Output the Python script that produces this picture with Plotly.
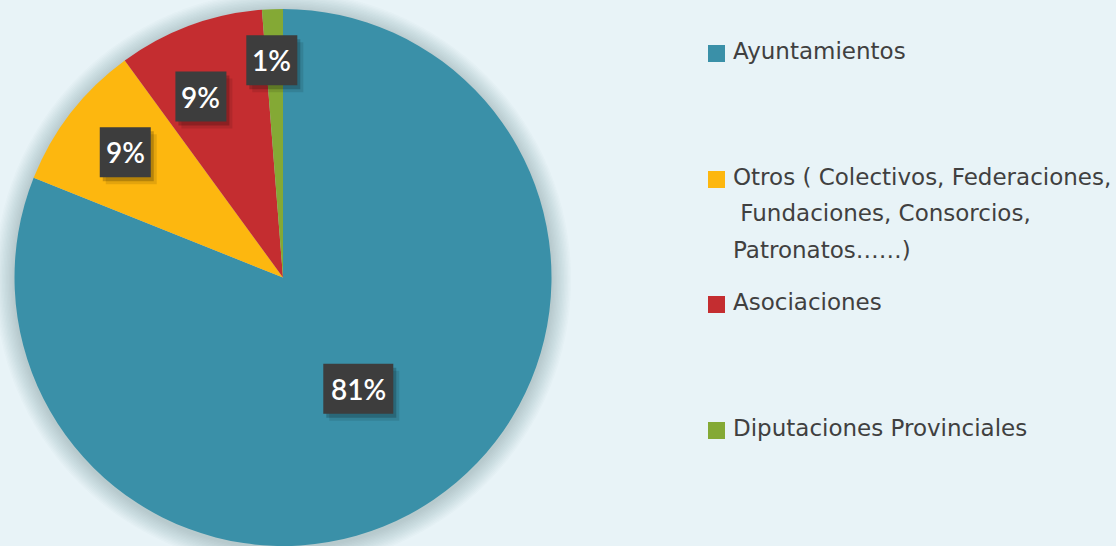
import math
import plotly.graph_objects as go

# ---- data ----
labels = [
    "Ayuntamientos",
    "Otros ( Colectivos, Federaciones,\n Fundaciones, Consorcios,\nPatronatos……)",
    "Asociaciones",
    "Diputaciones Provinciales",
]
values = [81.05, 8.92, 8.78, 1.25]
colors = ["#3a90a8", "#fdb70f", "#c42d30", "#84a935"]

# ---- layout geometry (pixels) ----
W, H = 1116, 546
pie_left, pie_right, pie_top = 13, 553, 9
dom_x = [pie_left / W, pie_right / W]
dom_y = [0.0, 1 - pie_top / H]
R = min(pie_right - pie_left, H - pie_top) / 2
CX = (pie_left + pie_right) / 2
CY = pie_top + R

label_rfrac = [0.50, 0.75, 0.74, 0.81]
label_dangle = [0.0, 0.6, -4.1, -0.7]

legend_marker_y = [53.5, 179.5, 304.5, 430.5]
legend_line_gap = 36.5
legend_marker_x0, legend_marker_size = 708, 17
legend_text_x = 731


def px_rect(x0, y0, x1, y1, **kw):
    return dict(type="rect", xref="paper", yref="paper",
                x0=x0 / W, x1=x1 / W, y0=1 - y1 / H, y1=1 - y0 / H, **kw)


fig = go.Figure()
fig.add_trace(go.Pie(
    labels=[l.replace("\n", " ") for l in labels],
    values=values,
    marker=dict(colors=colors, line=dict(width=0)),
    sort=False,
    direction="clockwise",
    rotation=0,
    textinfo="none",
    hoverinfo="label+percent",
    showlegend=False,
    domain=dict(x=dom_x, y=dom_y),
))

shapes = []
annotations = []

# soft shadow behind pie
for k in range(1, 15):
    rr = R + k * 1.4
    shapes.append(dict(
        type="circle", xref="paper", yref="paper", layer="below",
        x0=(CX - rr) / W, x1=(CX + rr) / W,
        y0=1 - (CY + 2 + rr) / H, y1=1 - (CY + 2 - rr) / H,
        fillcolor="rgba(60,80,90,0.018)", line=dict(width=0),
    ))

# data labels (dark boxes)
total = sum(values)
cum = 0.0
for i, v in enumerate(values):
    a0 = cum / total * 360
    cum += v
    a1 = cum / total * 360
    mid = math.radians((a0 + a1) / 2 + label_dangle[i])
    rr = R * label_rfrac[i]
    px = CX + rr * math.sin(mid)
    py = CY - rr * math.cos(mid)
    txt = f"{round(v / total * 100)}%"
    bw = 19 * len(txt) + 13
    bh = 50
    x0, x1 = px - bw / 2, px + bw / 2
    y0, y1 = py - bh / 2, py + bh / 2
    shapes.append(px_rect(x0 + 6, y0 + 7, x1 + 6, y1 + 7, layer="above",
                          fillcolor="rgba(0,0,0,0.10)", line=dict(width=0)))
    shapes.append(px_rect(x0 + 3, y0 + 4, x1 + 3, y1 + 4, layer="above",
                          fillcolor="rgba(0,0,0,0.20)", line=dict(width=0)))
    shapes.append(px_rect(x0, y0, x1, y1, layer="above",
                          fillcolor="#3d3d3d", line=dict(width=0)))
    annotations.append(dict(
        text=txt, xref="paper", yref="paper", x=px / W, y=1 - py / H,
        xanchor="center", yanchor="middle", showarrow=False,
        font=dict(color="white", size=28, family="Lato", weight=600),
    ))

# custom legend
for i, lab in enumerate(labels):
    my = legend_marker_y[i]
    s = legend_marker_size
    shapes.append(px_rect(legend_marker_x0, my - s / 2, legend_marker_x0 + s, my + s / 2,
                          fillcolor=colors[i], line=dict(width=0)))
    for j, line in enumerate(lab.split("\n")):
        if line.startswith(" "):
            line = "\u00a0" + line[1:]
        ty = my - 2.5 + j * legend_line_gap
        annotations.append(dict(
            text=line, xref="paper", yref="paper",
            x=legend_text_x / W, y=1 - ty / H,
            xanchor="left", yanchor="middle", showarrow=False,
            font=dict(family="DejaVu Sans", size=23, color="#404040"),
        ))

fig.update_layout(
    width=W, height=H,
    margin=dict(l=0, r=0, t=0, b=0),
    paper_bgcolor="#e8f3f7",
    plot_bgcolor="#e8f3f7",
    shapes=shapes,
    annotations=annotations,
    showlegend=False,
)

fig.write_html(
    "out.html",
    config={"displayModeBar": False},
    post_script="document.body.style.margin='0';document.body.style.overflow='hidden';",
)
